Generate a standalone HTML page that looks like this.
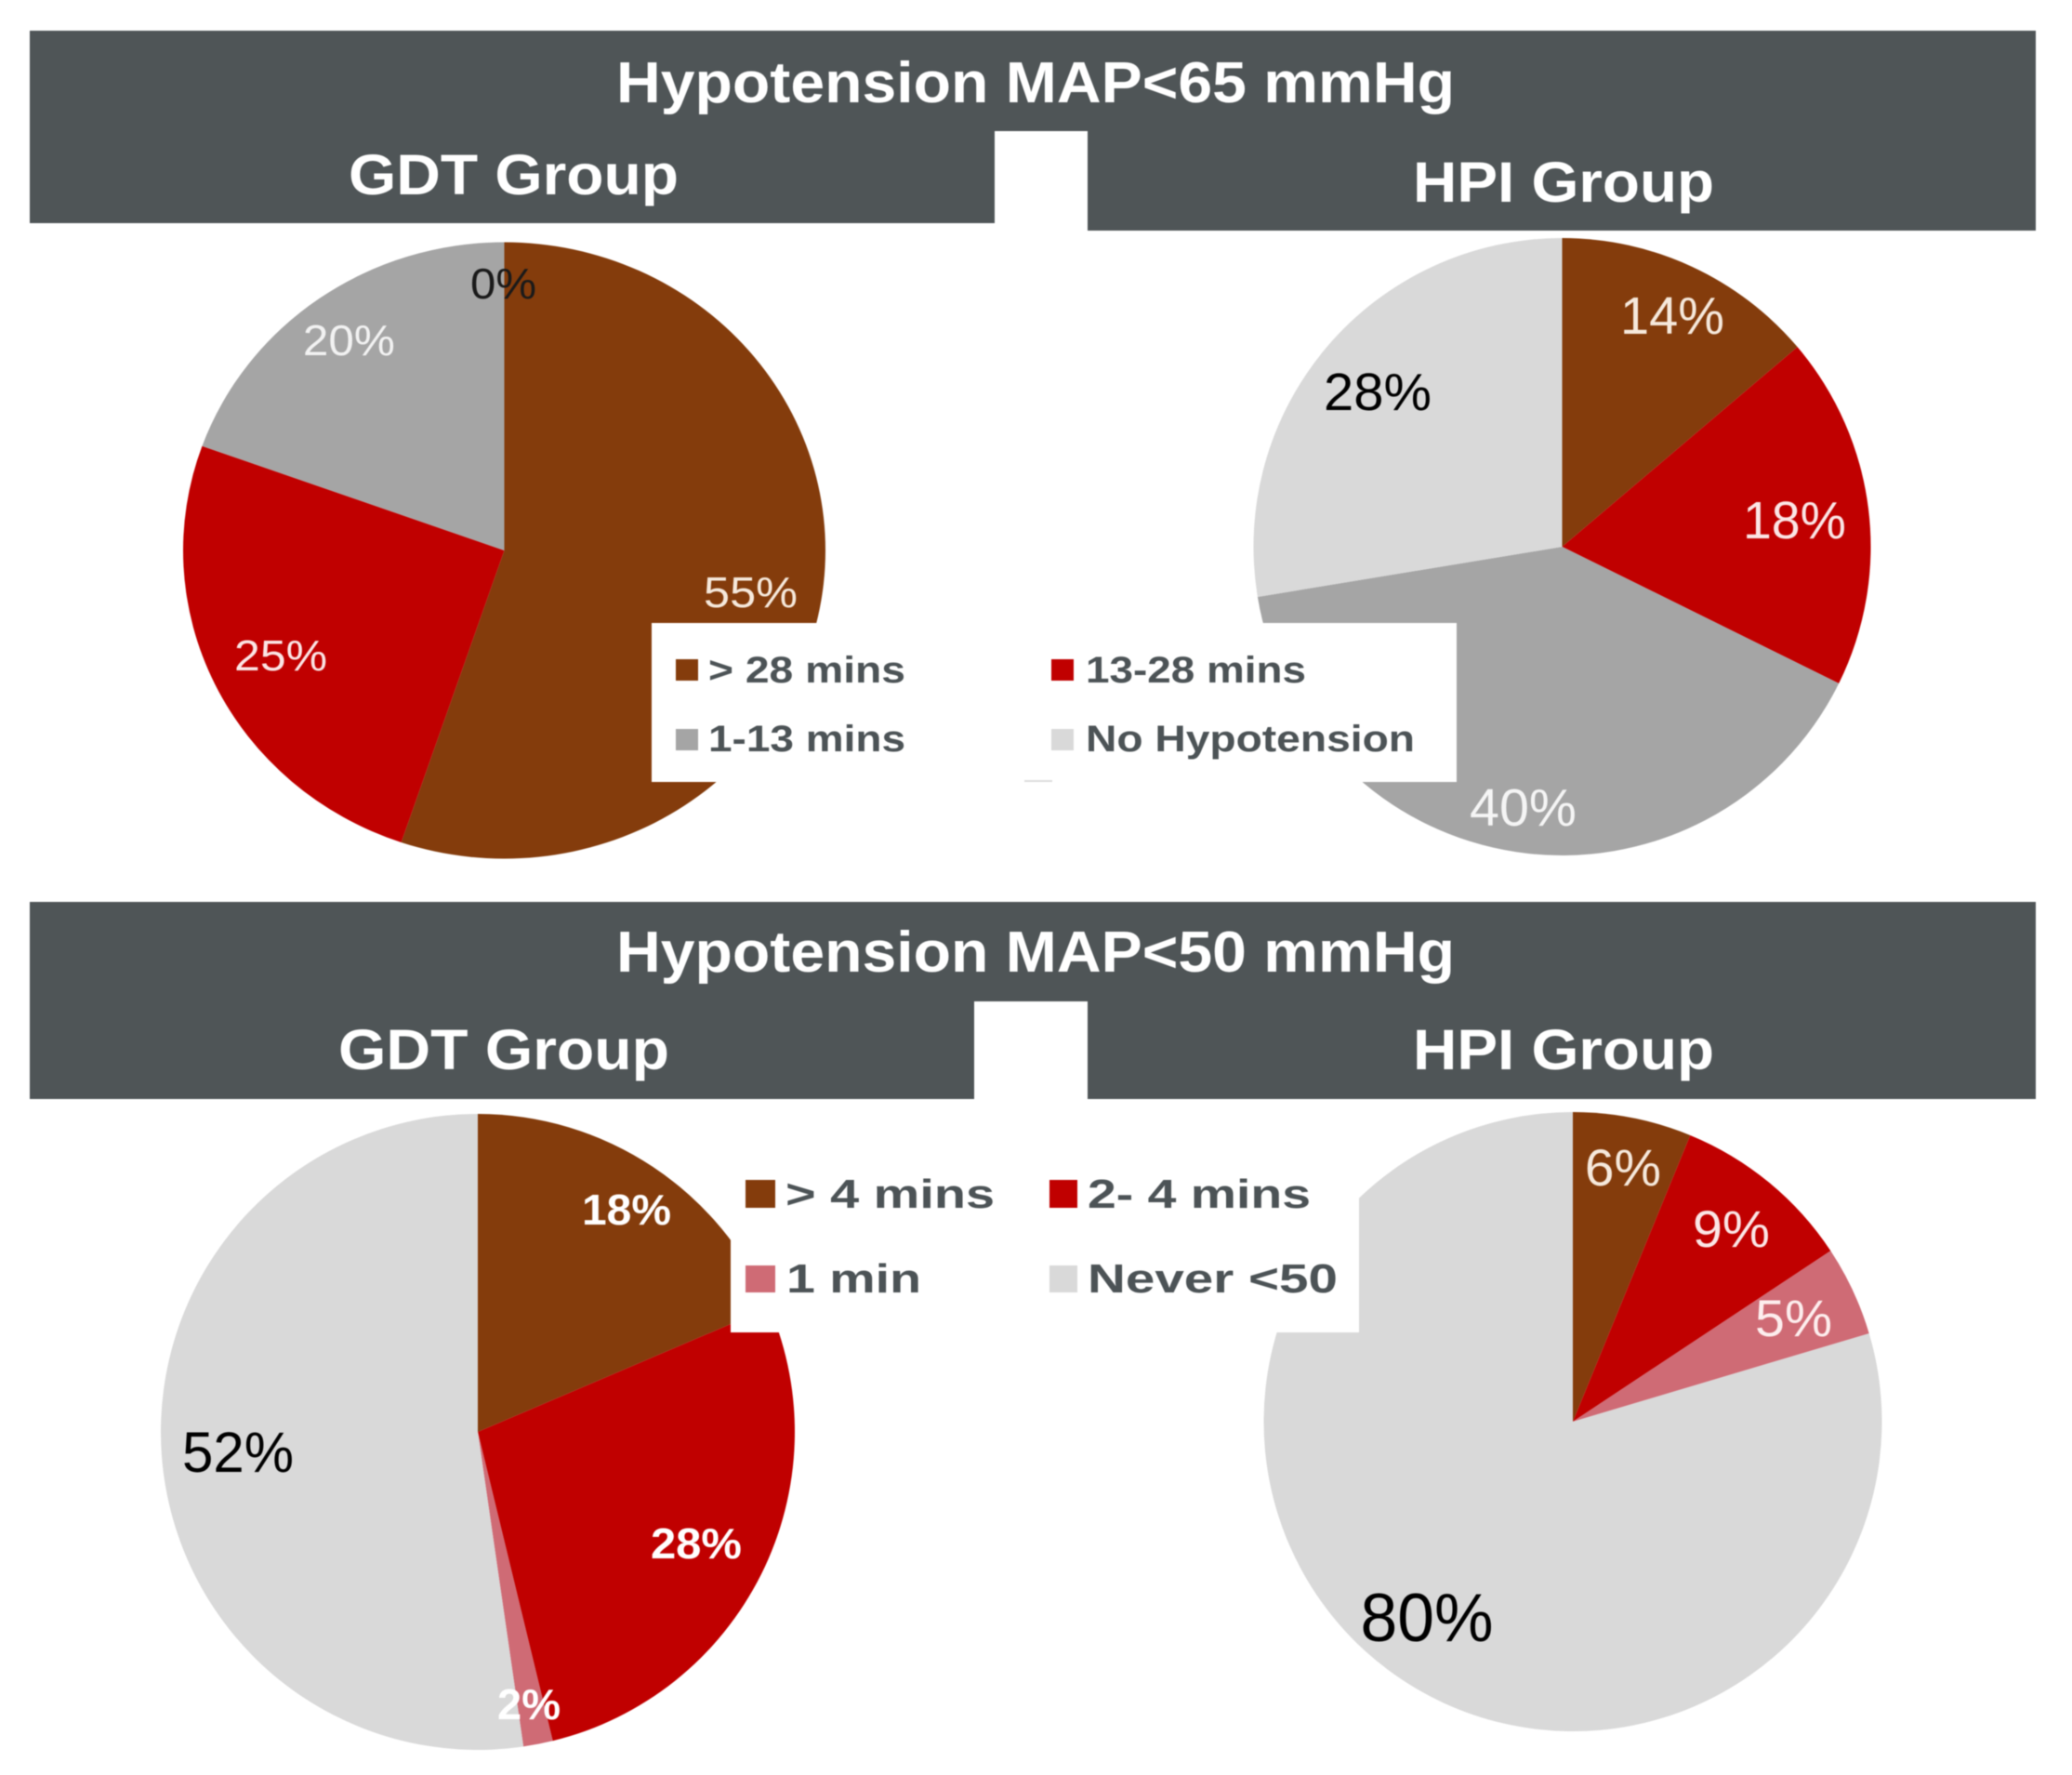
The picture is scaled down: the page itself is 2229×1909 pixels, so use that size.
<!DOCTYPE html>
<html lang="en">
<head>
<meta charset="utf-8">
<title>Hypotension duration by group</title>
<style>
html,body{margin:0;padding:0;background:#fff;}
svg{display:block;font-family:"Liberation Sans",Arial,sans-serif;filter:blur(0.6px);}
.banner{fill:#4f5557;}
.head{fill:#fff;font-weight:700;}
.leg{fill:#4c5356;font-weight:700;}
</style>
</head>
<body>
<svg id="chart" xmlns="http://www.w3.org/2000/svg" width="2229" height="1909" viewBox="0 0 2229 1909">
  <rect width="2229" height="1909" fill="#ffffff"/>

  <g>
    <rect class="banner" x="32" y="33" width="2158" height="108"/>
    <rect class="banner" x="32" y="141" width="1038" height="99"/>
    <rect class="banner" x="1170" y="141" width="1020" height="107"/>
    <text class="head" x="663" y="110" font-size="62" textLength="902" lengthAdjust="spacingAndGlyphs">Hypotension MAP&lt;65 mmHg</text>
    <text class="head" x="375" y="209" font-size="61" textLength="355" lengthAdjust="spacingAndGlyphs">GDT Group</text>
    <text class="head" x="1520" y="217" font-size="61" textLength="324" lengthAdjust="spacingAndGlyphs">HPI Group</text>
  </g>

  <g>
    <rect class="banner" x="32" y="970" width="2158" height="107"/>
    <rect class="banner" x="32" y="1077" width="1016" height="105"/>
    <rect class="banner" x="1170" y="1077" width="1020" height="105"/>
    <text class="head" x="663" y="1045" font-size="62" textLength="902" lengthAdjust="spacingAndGlyphs">Hypotension MAP&lt;50 mmHg</text>
    <text class="head" x="364" y="1150" font-size="61" textLength="356" lengthAdjust="spacingAndGlyphs">GDT Group</text>
    <text class="head" x="1520" y="1150" font-size="61" textLength="324" lengthAdjust="spacingAndGlyphs">HPI Group</text>
  </g>

  <g id="pies"></g>

  <g>
    <rect x="701" y="670" width="866" height="171" fill="#ffffff"/>
    <rect x="1102" y="839" width="30" height="2" fill="#dddddd"/>
    <rect x="727" y="709" width="24" height="23" fill="#843c0c"/>
    <text class="leg" x="762" y="734" font-size="40" textLength="212" lengthAdjust="spacingAndGlyphs">&gt; 28 mins</text>
    <rect x="1131" y="709" width="24" height="23" fill="#c00000"/>
    <text class="leg" x="1168" y="734" font-size="40" textLength="237" lengthAdjust="spacingAndGlyphs">13-28 mins</text>
    <rect x="727" y="784" width="24" height="23" fill="#a5a5a5"/>
    <text class="leg" x="762" y="808" font-size="40" textLength="212" lengthAdjust="spacingAndGlyphs">1-13 mins</text>
    <rect x="1131" y="784" width="24" height="23" fill="#d9d9d9"/>
    <text class="leg" x="1168" y="808" font-size="40" textLength="354" lengthAdjust="spacingAndGlyphs">No Hypotension</text>
  </g>

  <g>
    <rect x="786" y="1200" width="676" height="233" fill="#ffffff"/>
    <rect x="802" y="1269" width="32" height="30" fill="#843c0c"/>
    <text class="leg" x="845" y="1299" font-size="44" textLength="225" lengthAdjust="spacingAndGlyphs">&gt; 4 mins</text>
    <rect x="1129" y="1269" width="30" height="30" fill="#c00000"/>
    <text class="leg" x="1170" y="1299" font-size="44" textLength="240" lengthAdjust="spacingAndGlyphs">2- 4 mins</text>
    <rect x="802" y="1361" width="32" height="29" fill="#cf6b75"/>
    <text class="leg" x="846" y="1390" font-size="44" textLength="145" lengthAdjust="spacingAndGlyphs">1 min</text>
    <rect x="1129" y="1361" width="30" height="29" fill="#d9d9d9"/>
    <text class="leg" x="1170" y="1390" font-size="44" textLength="269" lengthAdjust="spacingAndGlyphs">Never &lt;50</text>
  </g>
</svg>

<script>
// Chart data: share of each slice, clockwise from 12 o'clock.
var gdt65Values = [55.2, 25.3, 19.5, 0];
var hpi65Values = [13.8, 18.5, 40.1, 27.6];
var gdt50Values = [18.6, 27.6, 1.5, 52.3];
var hpi50Values = [6.2, 9.5, 4.7, 79.6];

// Printed value labels.
var gdt65Labels = ['55%', '25%', '20%', '0%'];
var hpi65Labels = ['14%', '18%', '40%', '28%'];
var gdt50Labels = ['18%', '28%', '2%', '52%'];
var hpi50Labels = ['6%', '9%', '5%', '80%'];

// Category names.
var map65Categories = ['over-28-mins', '13-28-mins', '1-13-mins', 'no-hypotension'];
var map50Categories = ['over-4-mins', '2-4-mins', '1-min', 'never-under-50'];

// Presentation settings, kept apart from the data.
var BROWN = '#843c0c', RED = '#c00000', GRAY = '#a5a5a5', LIGHT = '#d9d9d9', PINK = '#cf6b75';
var pies = [
  { name: 'gdt-65', values: gdt65Values, labels: gdt65Labels, cats: map65Categories,
    cx: 542.5, cy: 592, rx: 345.5, ry: 331.5,
    colors: [BROWN, RED, GRAY, LIGHT],
    text: ['#f6e9dc', '#fbe6e6', '#f2f2f2', '#1a1a1a'],
    size: [46, 46, 46, 46], width: [101, 100, 99, 71],
    nudge: [[26.4, 23.2], [-22.6, 28.2], [-28, -20.2], [-1, -39]], weight: [400, 400, 400, 400] },
  { name: 'hpi-65', values: hpi65Values, labels: hpi65Labels, cats: map65Categories,
    cx: 1680.5, cy: 588, rx: 332, ry: 332,
    colors: [BROWN, RED, GRAY, LIGHT],
    text: ['#f6e9dc', '#fbe6e6', '#f5f5f5', '#000000'],
    size: [57, 57, 57, 57], width: [112, 111, 115, 116],
    nudge: [[20.9, -18.1], [19.3, 19.4], [-7.8, 70.1], [-21.3, 3.4]], weight: [400, 400, 400, 400] },
  { name: 'gdt-50', values: gdt50Values, labels: gdt50Labels, cats: map50Categories,
    cx: 514, cy: 1540, rx: 341, ry: 342,
    colors: [BROWN, RED, PINK, LIGHT],
    text: ['#ffffff', '#ffffff', '#ffffff', '#000000'],
    size: [46, 46, 46, 61], width: [96, 98, 68, 120],
    nudge: [[28.3, -23.3], [21.6, 28.6], [9.6, 74], [-19.9, 25.7]], weight: [700, 700, 700, 400] },
  { name: 'hpi-50', values: hpi50Values, labels: hpi50Labels, cats: map50Categories,
    cx: 1692, cy: 1529, rx: 332.5, ry: 333,
    colors: [BROWN, RED, PINK, LIGHT],
    text: ['#f6e9dc', '#fbe6e6', '#fdeeee', '#000000'],
    size: [56, 56, 56, 73], width: [82, 83, 83, 143],
    nudge: [[8.9, -25.3], [22.7, -8], [26.6, 6.6], [-17.8, 49.2]], weight: [400, 400, 400, 400] }
];

var SVG_NS = 'http://www.w3.org/2000/svg';
var LABEL_RADIUS = 0.7;
var root = document.getElementById('pies');

// Angle axis: cumulative share to radians clockwise from 12 o'clock.
function angleOf(share, total) {
  return share / total * 2 * Math.PI;
}
function pointOn(pie, angle, scale) {
  return {
    x: pie.cx + scale * pie.rx * Math.sin(angle),
    y: pie.cy - scale * pie.ry * Math.cos(angle)
  };
}
function slicePath(pie, a0, a1) {
  var p0 = pointOn(pie, a0, 1);
  var p1 = pointOn(pie, a1, 1);
  var large = (a1 - a0) > Math.PI ? 1 : 0;
  return 'M' + pie.cx + ' ' + pie.cy + 'L' + p0.x + ' ' + p0.y +
    'A' + pie.rx + ' ' + pie.ry + ' 0 ' + large + ' 1 ' + p1.x + ' ' + p1.y + 'Z';
}

pies.forEach(function (pie) {
  var group = document.createElementNS(SVG_NS, 'g');
  
  
  root.appendChild(group);

  var total = pie.values.reduce(function (s, v) { return s + v; }, 0);
  var running = 0;
  var mids = [];
  pie.values.forEach(function (value, i) {
    var a0 = angleOf(running, total);
    var a1 = angleOf(running + value, total);
    running += value;
    mids.push((a0 + a1) / 2);
    if (value <= 0) { return; }
    var path = document.createElementNS(SVG_NS, 'path');
    path.setAttribute('d', slicePath(pie, a0, a1));
    path.setAttribute('fill', pie.colors[i]);
    
    
    group.appendChild(path);
  });

  pie.labels.forEach(function (label, i) {
    var pos = pointOn(pie, mids[i], LABEL_RADIUS);
    var text = document.createElementNS(SVG_NS, 'text');
    text.setAttribute('x', pos.x + pie.nudge[i][0]);
    text.setAttribute('y', pos.y + pie.nudge[i][1]);
    text.setAttribute('text-anchor', 'middle');
    text.setAttribute('font-size', pie.size[i]);
    text.setAttribute('font-weight', pie.weight[i]);
    text.setAttribute('fill', pie.text[i]);
    text.setAttribute('textLength', pie.width[i]);
    text.setAttribute('lengthAdjust', 'spacingAndGlyphs');
    
    
    text.textContent = label;
    group.appendChild(text);
  });
});
</script>
</body>
</html>
